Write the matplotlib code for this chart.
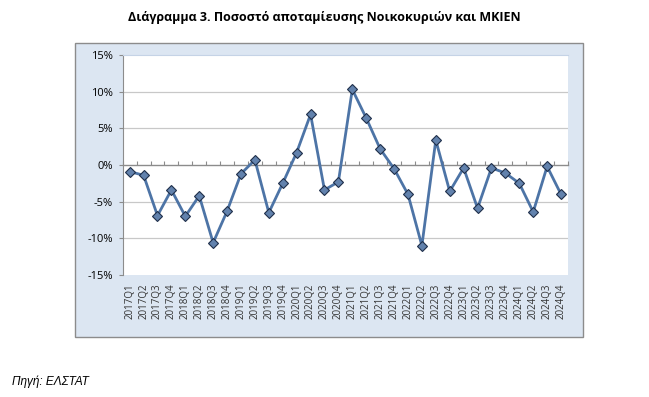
import numpy as np
import matplotlib.pyplot as plt
from matplotlib.patches import Rectangle
from matplotlib.ticker import FuncFormatter

quarters = [f"{y}Q{q}" for y in range(2017, 2025) for q in range(1, 5)]
savings_rate = [-0.9, -1.4, -6.9, -3.4, -7.0, -4.2, -10.6, -6.3,
                -1.2, 0.7, -6.5, -2.5, 1.7, 6.9, -3.4, -2.3,
                10.3, 6.4, 2.2, -0.5, -4.0, -11.0, 3.4, -3.6,
                -0.4, -5.9, -0.4, -1.1, -2.5, -6.4, -0.2, -4.0]

fig = plt.figure(figsize=(6.49, 3.97), dpi=100)
W, H = 649, 397

# πλαίσιο γραφήματος
fig.patches.append(Rectangle((75 / W, 60 / H), 508 / W, 294 / H,
                             transform=fig.transFigure, facecolor="#dce6f2",
                             edgecolor="#8c8c8c", linewidth=1.0, zorder=-1))

ax = fig.add_axes([122.7 / W, 122 / H, 445.3 / W, 220 / H])
ax.set_zorder(1)
ax.set_facecolor("white")
x = np.arange(len(quarters))
ax.plot(x, savings_rate, color="#4d74a6", linewidth=2.0, marker="D",
        markersize=5.5, markerfacecolor="#6282ad", markeredgecolor="#1f2f4a",
        markeredgewidth=0.8, zorder=3)

ax.set_xlim(-0.5, len(quarters) - 0.5)
ax.set_ylim(-15, 15)
ax.set_yticks(range(-15, 16, 5))
ax.yaxis.set_major_formatter(FuncFormatter(lambda v, p: f"{v:.0f}%"))
for v in [-10, -5, 5, 10]:
    ax.axhline(v, color="#c8c8c8", linewidth=0.9, zorder=1)

ax.set_xticks(x)
ax.set_xticklabels(quarters, rotation=90, fontsize=7, family="Open Sans",
                   color="#333333")
ax.tick_params(axis="x", length=0, pad=6)
ax.tick_params(axis="y", length=3, color="#8c8c8c", labelsize=8, pad=4)
for lab in ax.get_yticklabels():
    lab.set_family("Open Sans")

for s in ["right", "bottom"]:
    ax.spines[s].set_visible(False)
ax.spines["top"].set_color("#c5d3e6")
ax.spines["left"].set_color("#8c8c8c")

# άξονας κατηγοριών στο 0%
sec = ax.secondary_xaxis(0.5)
sec.set_xticks(np.arange(-0.5, len(quarters), 1.0))
sec.set_xticklabels([])
sec.tick_params(axis="x", length=3, color="#8c8c8c", direction="out")
for sp in sec.spines.values():
    sp.set_color("#8c8c8c")
    sp.set_linewidth(1.0)

fig.text(0.5, 1 - 18 / H, "Διάγραμμα 3. Ποσοστό αποταμίευσης Νοικοκυριών και ΜΚΙΕΝ",
         ha="center", va="center", fontsize=9, fontweight="bold", family="Open Sans")
fig.text(12 / W, 1 - 382 / H, "Πηγή: ΕΛΣΤΑΤ", ha="left", va="center",
         fontsize=8.5, style="italic", family="Liberation Sans")

fig.savefig("out.png", dpi=100)
